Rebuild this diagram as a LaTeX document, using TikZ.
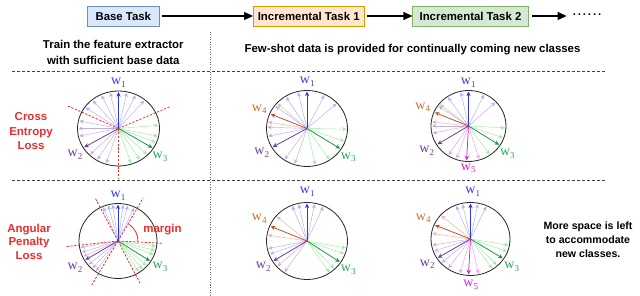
\documentclass[tikz,border=0pt]{standalone}
\usepackage{fontspec}
\setmainfont{Liberation Sans}
\newfontfamily\wserif{Liberation Serif}
\usetikzlibrary{arrows.meta}
\definecolor{bfill}{HTML}{DAE8FC}\definecolor{bdraw}{HTML}{6C8EBF}
\definecolor{ofill}{HTML}{FFE6CC}\definecolor{odraw}{HTML}{D79B00}
\definecolor{gfill}{HTML}{D5E8D4}\definecolor{gdraw}{HTML}{82B366}
\definecolor{cB}{RGB}{45,55,225}
\definecolor{cP}{RGB}{105,50,165}
\definecolor{cG}{RGB}{15,150,70}
\definecolor{cGl}{RGB}{60,215,60}
\definecolor{cO}{RGB}{185,75,30}
\definecolor{cOl}{RGB}{235,120,90}
\definecolor{cM}{RGB}{225,30,225}
\definecolor{lB}{RGB}{60,60,220}
\definecolor{lP}{RGB}{110,60,160}
\definecolor{lG}{RGB}{40,170,90}
\definecolor{lO}{RGB}{205,110,45}
\definecolor{myred}{RGB}{235,45,45}
\newcommand\wlab[1]{{\wserif\fontsize{14}{14}\selectfont w\raisebox{-0.4ex}{\fontsize{9}{9}\selectfont #1}}}
\newcommand\fan[5]{\foreach \a in {#5} \draw[#4] (#1) -- ++(\a:#2 and #3);}
\tikzset{
  taskbox/.style={draw, line width=0.6pt, minimum height=20pt, inner sep=0pt, font=\fontsize{11.4}{13}\selectfont\bfseries},
  flow/.style={line width=1.2pt, -{Triangle[length=9pt,width=8pt]}},
  sep/.style={dashed, dash pattern=on 3pt off 2pt, line width=0.5pt, black!75},
  vsep/.style={dash pattern=on 1pt off 1.5pt, line width=0.6pt, black!60},
  circ/.style={draw=black!85, line width=0.8pt},
  vec/.style={-{Stealth[length=4.2pt,width=3.8pt]}, line width=0.45pt},
  dvec/.style={-{Stealth[length=4.6pt,width=4.2pt]}, line width=0.75pt},
  reddash/.style={myred, dashed, dash pattern=on 2.2pt off 1.6pt, line width=0.8pt},
  redtxt/.style={myred, font=\fontsize{11.5}{14.5}\selectfont\bfseries, align=center},
  bodytxt/.style={font=\fontsize{11.4}{16}\selectfont\bfseries, align=center},
}
\begin{document}
\begin{tikzpicture}[x=1pt,y=1pt]
\fill[white] (0,0) rectangle (640,-296);
\useasboundingbox (0,0) rectangle (640,-296);
% top flow
\node[taskbox, fill=bfill, draw=bdraw, minimum width=72pt] (base) at (123.3,-16) {Base Task};
\node[taskbox, fill=ofill, draw=odraw, minimum width=110.7pt] (inc1) at (308.7,-16) {Incremental Task 1};
\node[taskbox, fill=gfill, draw=gdraw, minimum width=115.6pt] (inc2) at (470.5,-16) {Incremental Task 2};
\node[font=\fontsize{11.4}{13}\selectfont\bfseries, inner sep=0pt] (dots) at (587,-15) {.\,.\,.\,.\,.\,.};
\draw[flow] (base.east) ++(2.5,0) coordinate (b0) (b0) -- (inc1.west);
\draw[flow] (inc1.east) ++(2.5,0) coordinate (i0) (i0) -- (inc2.west);
\draw[flow] (inc2.east) ++(3,0) coordinate (j0) (j0) -- ++(35,0) coordinate (j1);
% texts
\node[bodytxt] (train) at (113.3,-52) {Train the feature extractor\\with sufficient base data};
\node[bodytxt] (few) at (412.5,-50) {Few-shot data is provided for continually coming new classes};
% separators
\coordinate (v0) at (210,-32); \coordinate (v1) at (210,-296);
\draw[vsep] (v0) -- (v1);
\coordinate (h0) at (12,-71); \coordinate (h1) at (606,-71);
\draw[sep] (h0) -- (h1);
\coordinate (h2) at (12,-180); \coordinate (h3) at (606,-180);
\draw[sep] (h2) -- (h3);
% labels
\node[redtxt] (ce) at (31,-131.5) {Cross\\Entropy\\Loss};
\node[redtxt, font=\fontsize{11.5}{13.5}\selectfont\bfseries] (ap) at (29,-241.7) {Angular\\Penalty\\Loss};
\node[font=\fontsize{10.6}{14}\selectfont\bfseries, align=center] (more) at (588,-239.3) {More space is left\\to accommodate\\new classes.};

% ===== Circle A (row 1 left)
\coordinate (A) at (118.5,-128.5);
\fan{A}{40}{36.5}{vec, cB!40}{50,65,78,102,115,130,145}
\fan{A}{40}{36.5}{vec, cP!40}{168,180,192,225,238,252}
\fan{A}{40}{36.5}{vec, cGl!50}{5,-12,-22,-45,-58,-72}
\draw[reddash] (A) -- ++(-50.5,22.5) coordinate (A1);
\draw[reddash] (A) -- ++(51.5,21.8) coordinate (A2);
\draw[reddash] (A) -- ++(0,-49.5) coordinate (A3);
\draw[circ] (A) ellipse [x radius=41, y radius=37.5];
\fan{A}{40}{36.5}{dvec, cB}{90}
\fan{A}{40}{36.5}{dvec, cP}{211}
\fan{A}{40}{36.5}{dvec, cG}{-32}
\node[lB] (A-w1) at (118.5,-82.7) {\wlab{1}};
\node[lP] (A-w2) at (75,-155) {\wlab{2}};
\node[lG] (A-w3) at (160,-156.7) {\wlab{3}};

% ===== Circle B (row 1 middle)
\coordinate (B) at (307,-128.5);
\fan{B}{39.5}{37}{vec, cB!40}{42,64,103,122,143}
\fan{B}{39.5}{37}{vec, cOl!60}{138,170}
\fan{B}{39.5}{37}{vec, cP!40}{178,192,236,252}
\fan{B}{39.5}{37}{vec, cGl!50}{-1,-20,-56,-78}
\draw[circ] (B) ellipse [x radius=40.5, y radius=38];
\fan{B}{39.5}{37}{dvec, cB}{90}
\fan{B}{39.5}{37}{dvec, cO}{157}
\fan{B}{39.5}{37}{dvec, cP}{210}
\fan{B}{39.5}{37}{dvec, cG}{-33}
\node[lB] (B-w1) at (307.3,-81.7) {\wlab{1}};
\node[lO] (B-w4) at (259.3,-109.3) {\wlab{4}};
\node[lP] (B-w2) at (261.7,-152.7) {\wlab{2}};
\node[lG] (B-w3) at (348.3,-157.3) {\wlab{3}};

% ===== Circle C (row 1 right)
\coordinate (C) at (468.5,-126);
\fan{C}{36.5}{34.5}{vec, cB!40}{43,65,102,124,145}
\fan{C}{36.5}{34.5}{vec, cOl!60}{141,173}
\fan{C}{36.5}{34.5}{vec, cP!40}{180,192,237}
\fan{C}{36.5}{34.5}{vec, cM!45}{251,287}
\fan{C}{36.5}{34.5}{vec, cGl!50}{-3,-20,-55}
\draw[circ] (C) ellipse [x radius=37.5, y radius=35.5];
\fan{C}{36.5}{34.5}{dvec, cB}{90}
\fan{C}{36.5}{34.5}{dvec, cO}{157}
\fan{C}{36.5}{34.5}{dvec, cP}{212}
\fan{C}{36.5}{34.5}{dvec, cM}{267}
\fan{C}{36.5}{34.5}{dvec, cG}{-33}
\node[lB] (C-w1) at (468.3,-82.7) {\wlab{1}};
\node[lO] (C-w4) at (422.7,-107.3) {\wlab{4}};
\node[lP] (C-w2) at (426.7,-150.7) {\wlab{2}};
\node[cM] (C-w5) at (468.3,-168.3) {\wlab{5}};
\node[lG] (C-w3) at (507.3,-154) {\wlab{3}};

% ===== Circle D (row 2 left)
\coordinate (D) at (118,-241);
\fan{D}{38}{36.5}{vec, cB!40}{65,75,82,98,105,113}
\fan{D}{38}{36.5}{vec, cP!40}{190,198,205,220,228,235}
\fan{D}{38}{36.5}{vec, cGl!50}{-8,-15,-22,-42,-50,-57}
\draw[reddash] (D) -- ++(-23,43.3) coordinate (D1);
\draw[reddash] (D) -- ++(22,-42.3) coordinate (D2);
\draw[reddash] (D) -- ++(25.3,43.3) coordinate (D3);
\draw[reddash] (D) -- ++(-26.3,-44) coordinate (D4);
\draw[reddash] (D) -- ++(-53,-5.7) coordinate (D5);
\draw[reddash] (D) -- ++(45.3,-2.3) coordinate (D6);
\draw[circ] (D) ellipse [x radius=39, y radius=37.5];
\draw[myred, line width=0.8pt] (D) ++(-3:20) arc[start angle=-3, end angle=58, radius=20];
\fan{D}{38}{36.5}{dvec, cB}{90}
\fan{D}{38}{36.5}{dvec, cP}{211}
\fan{D}{38}{36.5}{dvec, cG}{-33}
\node[myred, font=\fontsize{11.5}{13}\selectfont\bfseries] (margin) at (162.5,-229.3) {margin};
\node[lB] (D-w1) at (118,-195.7) {\wlab{1}};
\node[lP] (D-w2) at (75,-267.7) {\wlab{2}};
\node[lG] (D-w3) at (160,-266.7) {\wlab{3}};

% ===== Circle E (row 2 middle)
\coordinate (E) at (307,-241);
\fan{E}{39.5}{37.5}{vec, cB!40}{66,79,102,112}
\fan{E}{39.5}{37.5}{vec, cOl!60}{139.5,171}
\fan{E}{39.5}{37.5}{vec, cP!40}{191.6,200.5,222,235.5}
\fan{E}{39.5}{37.5}{vec, cGl!50}{-10.7,-19.7,-47,-56}
\draw[circ] (E) ellipse [x radius=40.5, y radius=38.5];
\fan{E}{39.5}{37.5}{dvec, cB}{90}
\fan{E}{39.5}{37.5}{dvec, cO}{157}
\fan{E}{39.5}{37.5}{dvec, cP}{212}
\fan{E}{39.5}{37.5}{dvec, cG}{-34}
\node[lB] (E-w1) at (307.3,-191.7) {\wlab{1}};
\node[lO] (E-w4) at (259.3,-219) {\wlab{4}};
\node[lP] (E-w2) at (263.3,-266.7) {\wlab{2}};
\node[lG] (E-w3) at (348.3,-270) {\wlab{3}};

% ===== Circle F (row 2 right)
\coordinate (F) at (470.5,-239);
\fan{F}{38.5}{35.5}{vec, cB!40}{66,79,102,112}
\fan{F}{38.5}{35.5}{vec, cOl!60}{139,171}
\fan{F}{38.5}{35.5}{vec, cP!40}{190,200,222,235}
\fan{F}{38.5}{35.5}{vec, cM!45}{254,282}
\fan{F}{38.5}{35.5}{vec, cGl!50}{-10,-20,-47,-56}
\draw[circ] (F) ellipse [x radius=39.5, y radius=36.5];
\fan{F}{38.5}{35.5}{dvec, cB}{90}
\fan{F}{38.5}{35.5}{dvec, cO}{157}
\fan{F}{38.5}{35.5}{dvec, cP}{212}
\fan{F}{38.5}{35.5}{dvec, cM}{267}
\fan{F}{38.5}{35.5}{dvec, cG}{-33}
\node[lB] (F-w1) at (472.7,-191.7) {\wlab{1}};
\node[lO] (F-w4) at (423.3,-218.3) {\wlab{4}};
\node[lP] (F-w2) at (427.3,-264.3) {\wlab{2}};
\node[cM] (F-w5) at (470.7,-285) {\wlab{5}};
\node[lG] (F-w3) at (511.7,-266.7) {\wlab{3}};
\end{tikzpicture}
\end{document}
